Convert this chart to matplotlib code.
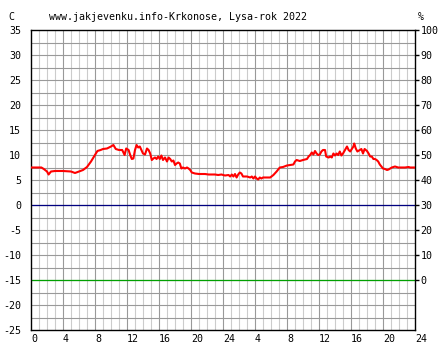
import matplotlib
matplotlib.use("Agg")
import matplotlib.pyplot as plt
import numpy as np

hours = [0, 0.7, 1.3, 1.6, 2.0, 2.2, 2.5, 3.0, 4.0, 5.0, 5.5, 6.0, 6.5, 7.0, 7.5, 8.0, 8.3, 8.7, 9.0, 9.5,
         10.0, 10.3, 10.6, 11.0, 11.4, 11.7, 11.9, 12.2, 12.4, 12.6, 12.8, 13.0, 13.2, 13.4, 13.6, 13.8,
         14.0, 14.25, 14.5, 14.7, 14.9, 15.1, 15.3, 15.5, 15.7, 15.9, 16.1, 16.3, 16.5, 16.75, 17.0, 17.2,
         17.4, 17.6, 17.8, 18.0, 18.2, 18.4, 18.6, 18.8, 19.0, 19.25, 19.5, 19.7, 19.9, 20.1, 20.5, 21.0,
         21.75, 22.2, 22.6, 23.0, 23.4, 23.8, 24.25, 24.7, 24.9, 25.1, 25.3, 25.5, 25.7, 25.9, 26.1, 26.3,
         26.5, 27.0, 27.4, 27.6, 27.8, 28.0, 28.2, 28.4, 28.6, 28.8, 29.0, 29.5, 29.9, 30.3, 30.7, 31.0,
         31.1, 31.5, 32.0, 32.4, 32.8, 33.0, 33.2, 33.6, 34.0, 34.5, 34.7, 34.9, 35.1, 35.3, 35.5, 35.7,
         35.9, 36.1, 36.3, 36.5, 36.75, 36.9, 37.2, 37.4, 37.6, 37.8, 38.0, 38.2, 38.4, 38.6, 38.8, 39.0,
         39.25, 39.5, 39.7, 39.9, 40.1, 40.3, 40.4, 40.6, 40.8, 41.1, 41.3, 41.5, 41.7, 42.0, 42.2, 42.4,
         42.6, 42.8, 43.0, 43.2, 43.4, 43.6, 43.8, 44.0, 44.25, 44.5, 44.7, 44.9, 45.1, 45.5, 45.7, 45.9,
         46.3, 46.75, 47.2, 47.4, 47.6, 48.0]
temps = [7.5, 7.5, 7.5, 7.2, 6.7, 6.1, 6.7, 6.8, 6.8, 6.7, 6.4, 6.7, 7.0, 7.6, 8.7, 10.0, 10.8, 11.0, 11.2, 11.3,
         11.7, 12.0, 11.2, 11.0, 11.0, 10.0, 11.3, 11.0, 10.0, 9.2, 9.3, 11.0, 12.0, 11.5, 11.7, 11.0,
         10.3, 10.1, 11.3, 11.0, 10.3, 9.0, 9.3, 9.5, 9.2, 9.7, 9.2, 9.9, 9.0, 9.5, 8.7, 9.5,
         9.2, 8.7, 8.9, 8.0, 8.3, 8.5, 8.3, 7.3, 7.5, 7.3, 7.5, 7.3, 7.0, 6.5, 6.3, 6.2,
         6.2, 6.1, 6.1, 6.1, 6.0, 6.1, 5.9, 6.0, 5.7, 6.1, 5.7, 6.2, 5.5, 6.1, 6.5, 6.3,
         5.7, 5.7, 5.5, 5.7, 5.3, 5.7, 5.3, 5.1, 5.5, 5.3, 5.5, 5.5, 5.5, 6.0, 6.7, 7.3,
         7.5, 7.6, 7.9, 8.0, 8.1, 8.7, 9.0, 8.8, 9.0, 9.2, 9.7, 10.0, 10.5, 10.1, 10.8, 10.3,
         10.0, 10.1, 10.7, 11.0, 11.0, 9.7, 9.5, 9.7, 9.5, 10.3, 9.9, 10.3, 10.0, 10.7, 9.9, 10.3,
         11.0, 11.7, 11.0, 10.7, 11.2, 11.7, 12.3, 11.3, 10.7, 11.0, 11.2, 10.3, 11.2, 10.8, 10.3, 9.7,
         9.7, 9.2, 9.2, 9.0, 8.7, 8.1, 7.7, 7.3, 7.2, 7.0, 7.1, 7.3, 7.5, 7.7, 7.6, 7.5,
         7.5, 7.5, 7.6, 7.5, 7.5, 7.5]

x_tick_pos = list(range(0, 49, 4))
x_tick_labels = ["0", "4", "8", "12", "16", "20", "24", "4", "8", "12", "16", "20", "24"]
left_ticks = list(range(-25, 36, 5))
right_pos = list(range(-15, 36, 5))
right_labels = [str(v) for v in range(0, 101, 10)]

FONT = "DejaVu Sans Mono"
FS = 7.2

fig = plt.figure(figsize=(4.44, 3.6), dpi=100)
fig.patch.set_facecolor("white")
ax = fig.add_axes([31 / 444, 30 / 360, 384 / 444, 300 / 360])
ax.set_xlim(0, 48)
ax.set_ylim(-25, 35)

# grid
for h in range(1, 48):
    col = "#999999" if h % 4 == 0 else "#cccccc"
    ax.axvline(h, color=col, lw=0.8, zorder=1)
for v in np.arange(-22.5, 35, 2.5):
    ax.axhline(v, color="#999999", lw=0.8, zorder=1)

ax.axhline(0, color="#000080", lw=0.9, zorder=2)
ax.axhline(-15, color="#00a000", lw=0.9, zorder=2)

ax.plot(hours, temps, color="#ff0000", lw=1.5, zorder=3)

for s in ax.spines.values():
    s.set_color("black")
    s.set_linewidth(1.0)

ax.set_xticks(x_tick_pos)
ax.set_xticklabels(x_tick_labels, fontfamily=FONT, fontsize=FS, ha="left")
ax.tick_params(axis="x", length=0, pad=3)
ax.set_yticks(left_ticks)
ax.set_yticklabels([str(v) for v in left_ticks], fontfamily=FONT, fontsize=FS)
ax.tick_params(axis="y", length=0, pad=7)

ax2 = ax.twinx()
ax2.set_ylim(-25, 35)
ax2.set_yticks(right_pos)
ax2.set_yticklabels(right_labels, fontfamily=FONT, fontsize=FS)
ax2.tick_params(axis="y", length=3, width=1, pad=1, color="black")
for s in ax2.spines.values():
    s.set_visible(False)

fig.text(178 / 444, 1 - 16.5 / 360, "www.jakjevenku.info-Krkonose, Lysa-rok 2022",
         fontfamily=FONT, fontsize=FS, ha="center", va="center")
fig.text(11 / 444, 1 - 16.5 / 360, "C", fontfamily=FONT, fontsize=FS, ha="center", va="center")
fig.text(421 / 444, 1 - 16.5 / 360, "%", fontfamily=FONT, fontsize=FS, ha="center", va="center")

fig.savefig("out.png", dpi=100, facecolor="white")
